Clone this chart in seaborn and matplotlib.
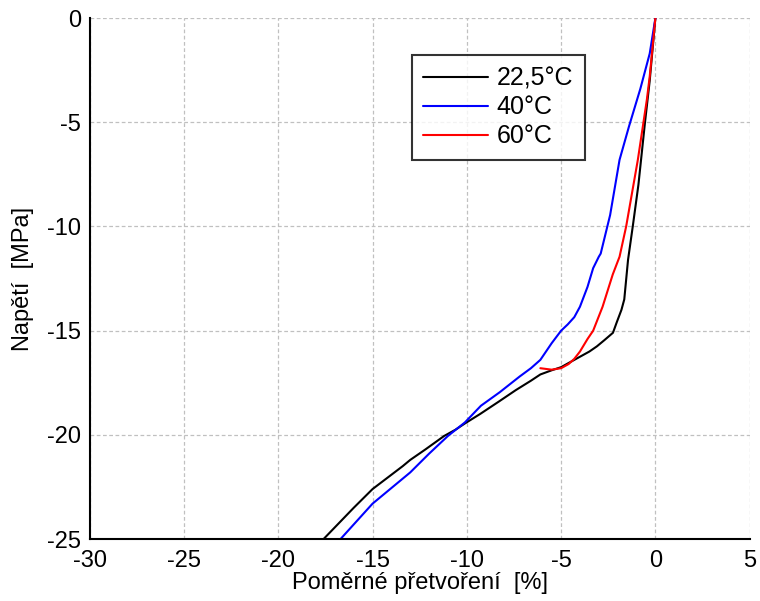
import numpy as np
import pandas as pd
import matplotlib
matplotlib.use("Agg")
import matplotlib.pyplot as plt
import seaborn as sns

# stress-strain curves
black_x = [-17.6, -16.8, -16.0, -15.0, -14.2, -13.4, -13.0, -12.2, -11.2, -10.6, -10.1,
           -9.3, -8.3, -7.4, -6.6, -6.1, -5.5, -5.0, -4.5, -4.0, -3.5, -3.1, -2.7,
           -2.25, -2.05, -1.8, -1.65, -1.45, -1.2, -0.9, -0.55, -0.3, 0.0]
black_y = [-25.0, -24.25, -23.5, -22.6, -22.05, -21.5, -21.2, -20.7, -20.05, -19.75, -19.45,
           -19.0, -18.4, -17.85, -17.4, -17.1, -16.9, -16.75, -16.5, -16.25, -16.0, -15.75, -15.45,
           -15.1, -14.6, -14.0, -13.5, -11.6, -10.0, -8.0, -5.0, -3.0, 0.0]

blue_x = [-16.7, -15.9, -15.0, -14.0, -13.0, -12.0, -11.0, -10.1, -9.25, -8.25, -7.2,
          -6.6, -6.1, -5.5, -5.0, -4.65, -4.3, -4.0, -3.6, -3.3, -3.0, -2.9, -2.4,
          -1.9, -1.4, -0.8, -0.3, 0.0]
blue_y = [-25.0, -24.2, -23.3, -22.55, -21.8, -20.9, -20.05, -19.4, -18.6, -17.95, -17.2,
          -16.8, -16.4, -15.6, -15.0, -14.7, -14.35, -13.85, -12.9, -12.0, -11.45, -11.3, -9.45,
          -6.8, -5.2, -3.4, -1.7, 0.0]

red_x = [-6.1, -5.5, -5.0, -4.6, -4.3, -4.0, -3.6, -3.3, -2.8, -2.26, -1.9, -1.55,
         -0.93, -0.45, -0.3, 0.0]
red_y = [-16.8, -16.87, -16.8, -16.6, -16.35, -16.0, -15.4, -15.0, -13.85, -12.3, -11.45, -10.0,
         -6.8, -3.9, -2.8, 0.0]

labels = ["22,5°C", "40°C", "60°C"]
colors = ["black", "#0000ff", "#ff0000"]

df = pd.concat([
    pd.DataFrame({"x": black_x, "y": black_y, "T": labels[0]}),
    pd.DataFrame({"x": blue_x, "y": blue_y, "T": labels[1]}),
    pd.DataFrame({"x": red_x, "y": red_y, "T": labels[2]}),
])

sns.set_theme(style="white")
plt.rcParams["font.family"] = ["Liberation Sans", "DejaVu Sans"]
plt.rcParams["axes.unicode_minus"] = False
plt.rcParams["text.color"] = "black"
plt.rcParams["axes.labelcolor"] = "black"

fig = plt.figure(figsize=(7.6, 6.01), dpi=100)
ax = fig.add_axes([0.118, 0.103, 0.8684, 0.8669])

sns.lineplot(data=df, x="x", y="y", hue="T", palette=dict(zip(labels, colors)),
             sort=False, estimator=None, linewidth=1.5, ax=ax)

ax.set_xlim(-30, 5)
ax.set_ylim(-25, 0)
ax.set_xticks(np.arange(-30, 6, 5))
ax.set_yticks(np.arange(-25, 1, 5))
ax.grid(True, color="#c0c0c0", linestyle=(0, (3, 2)), linewidth=0.9)
ax.set_axisbelow(True)

for s in ["top", "right"]:
    ax.spines[s].set_visible(False)
for s in ["left", "bottom"]:
    ax.spines[s].set_color("black")
    ax.spines[s].set_linewidth(1.5)

ax.tick_params(axis="both", direction="in", length=5, width=1.2, labelsize=17,
               colors="black")
ax.tick_params(axis="x", pad=8)
ax.tick_params(axis="y", pad=6)

ax.set_xlabel("Poměrné přetvoření  [%]", fontsize=17)
ax.set_ylabel("Napětí  [MPa]", fontsize=17)
ax.xaxis.set_label_coords(0.5, -0.063)
ax.yaxis.set_label_coords(-0.085, 0.5)

leg = ax.legend(loc="upper left", bbox_to_anchor=(0.488, 0.929), fontsize=18,
                frameon=True, fancybox=False, borderpad=0.45, labelspacing=0.2,
                handlelength=2.6, handletextpad=0.35, borderaxespad=0)
leg.get_frame().set_edgecolor("black")
leg.get_frame().set_linewidth(1.5)
for line in leg.get_lines():
    line.set_linewidth(1.5)
for t in leg.get_texts():
    t.set_color("black")

fig.savefig("out.png", dpi=100)
